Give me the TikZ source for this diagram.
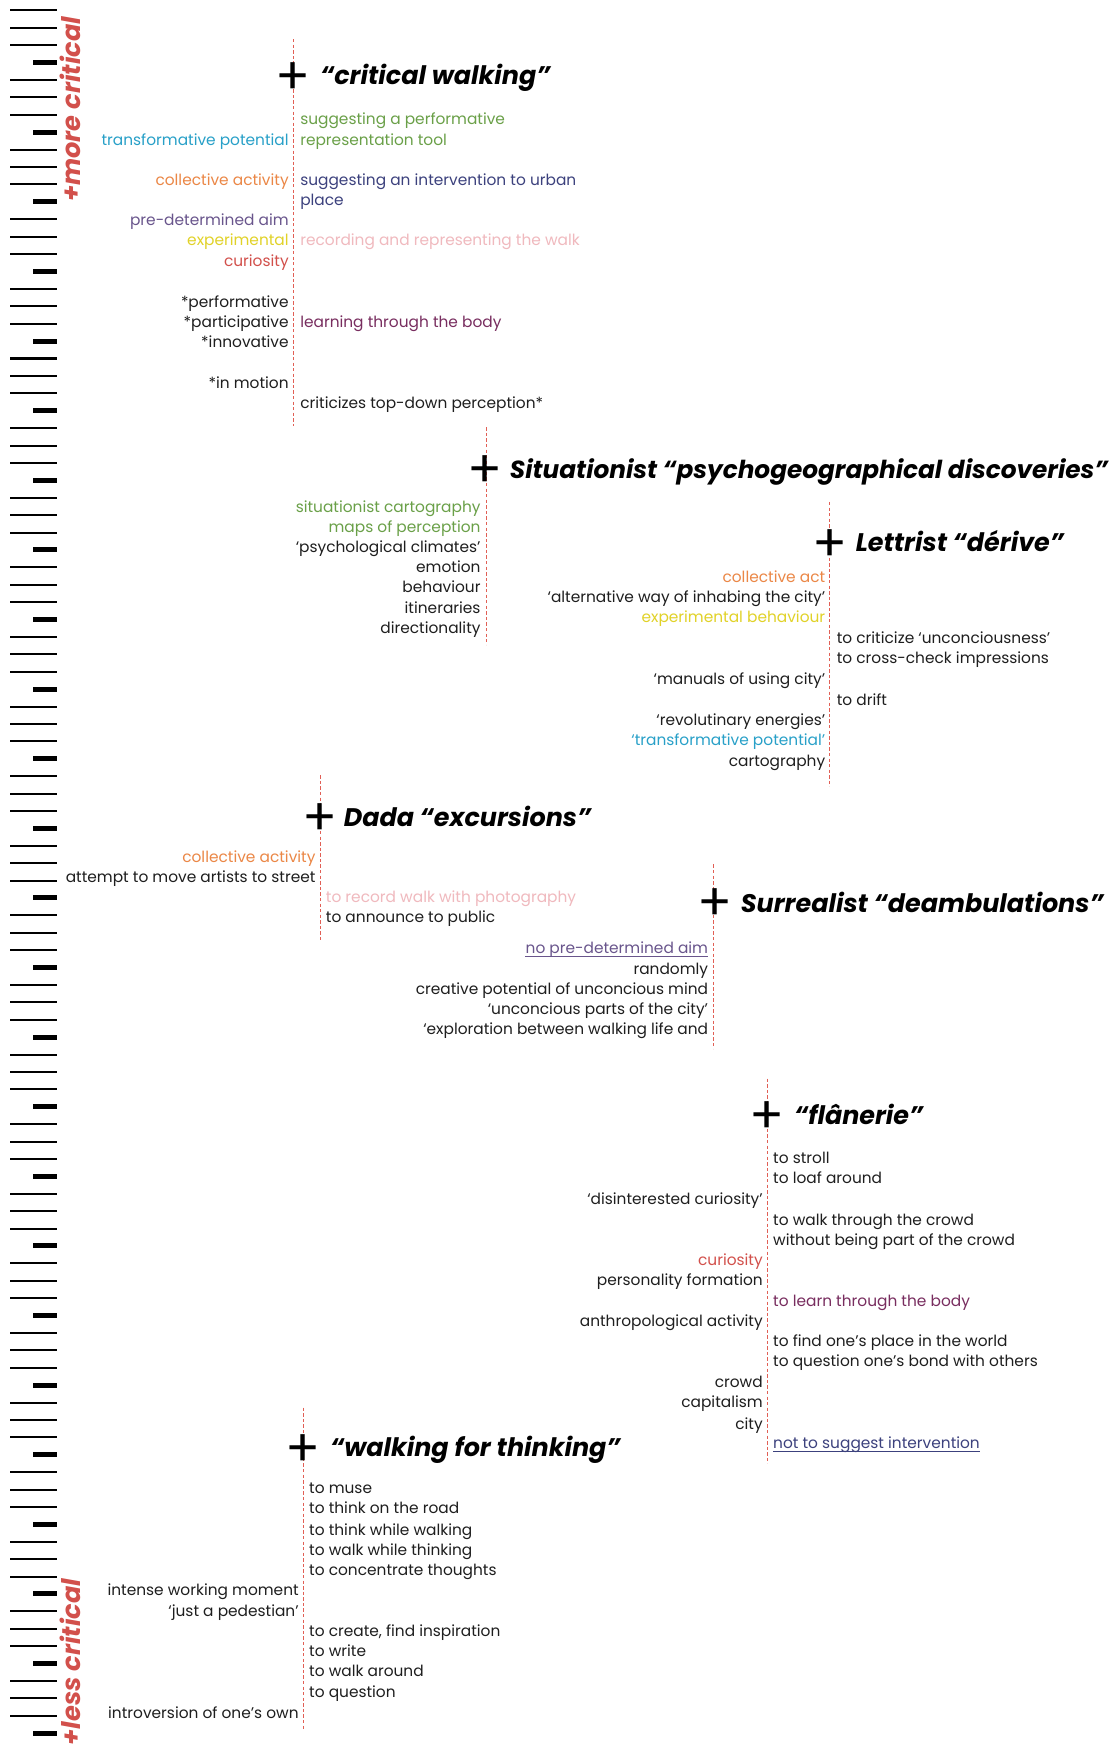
\documentclass[tikz,border=0pt]{standalone}
\usepackage{fontspec}
\setmainfont{Poppins}
\definecolor{cgreen}{RGB}{106,160,72}
\definecolor{ccyan}{RGB}{40,160,200}
\definecolor{corange}{RGB}{235,135,70}
\definecolor{cindigo}{RGB}{60,65,125}
\definecolor{cviolet}{RGB}{105,85,140}
\definecolor{cyellow}{RGB}{225,210,40}
\definecolor{cred}{RGB}{210,80,75}
\definecolor{cpink}{RGB}{240,185,190}
\definecolor{cplum}{RGB}{120,45,95}
\definecolor{dashred}{RGB}{225,95,85}
\definecolor{txt}{RGB}{30,30,30}
\newcounter{itm}
\newcommand\itL[4]{\stepcounter{itm}\node[lbl,text=#3,anchor=mid east] (i\arabic{itm}) at (#1,#2) {#4};}
\newcommand\itR[4]{\stepcounter{itm}\node[lbl,text=#3,anchor=mid west] (i\arabic{itm}) at (#1,#2) {#4};}
\begin{document}
\begin{tikzpicture}[x=1pt,y=-1pt,
  lbl/.style={inner sep=0pt,yshift=-2.5pt,font=\fontsize{13.8}{15}\selectfont},
  ttl/.style={inner sep=0pt,anchor=mid west,yshift=-4pt,font=\bfseries\itshape\fontsize{22.8}{24}\selectfont,text=black},
  plus/.style={inner sep=0pt,yshift=-3pt,font=\fontsize{46}{46}\selectfont,text=black},
  dashline/.style={draw=dashred,line width=0.8pt,dash pattern=on 3pt off 2pt},
  thinbar/.style={draw=black,line width=1.8pt},
  thickbar/.style={draw=black,line width=4.5pt},
  side/.style={inner sep=0pt,rotate=90,text=cred,font=\bfseries\itshape\fontsize{23}{23}\selectfont}]
\useasboundingbox (0,0) rectangle (1000,1568);
\fill[white] (0,0) rectangle (1000,1568);
% ruler
\foreach \i in {0,...,99}{
  \pgfmathsetmacro\yy{9.4+15.6*\i}
  \pgfmathtruncatemacro\m{mod(\i,4)}
  \ifnum\m=3 \draw[thickbar] (30,\yy) -- (51,\yy); \else \draw[thinbar] (9,\yy) -- (51,\yy); \fi
}
\node[side] (more) at (63,98) {+more critical};
\node[side] (less) at (63,1490) {+less critical};

% ---------- critical walking
\coordinate (cwt) at (263,35); \coordinate (cwb) at (263,382);
\draw[dashline] (cwt) -- (cwb);
\node[plus] (cwp) at (263,67) {+};
\node[ttl] (cwtitle) at (287,69) {“critical walking”};
\itR{269}{106}{cgreen}{suggesting a performative}
\itR{269}{125}{cgreen}{representation tool}
\itR{269}{161}{cindigo}{suggesting an intervention to urban}
\itR{269}{179}{cindigo}{place}
\itR{269}{215}{cpink}{recording and representing the walk}
\itR{269}{288}{cplum}{learning through the body}
\itR{269}{361}{txt}{criticizes top-down perception*}
\itL{259}{125}{ccyan}{transformative potential}
\itL{259}{161}{corange}{collective activity}
\itL{259}{197}{cviolet}{pre-determined aim}
\itL{259}{215}{cyellow}{experimental}
\itL{259}{234}{cred}{curiosity}
\itL{259}{270}{txt}{*performative}
\itL{259}{288}{txt}{*participative}
\itL{259}{306}{txt}{*innovative}
\itL{259}{343}{txt}{*in motion}

% ---------- Situationist
\coordinate (sit) at (436,383); \coordinate (sib) at (436,578);
\draw[dashline] (sit) -- (sib);
\node[plus] (sip) at (435,420) {+};
\node[ttl,font=\bfseries\itshape\fontsize{22.2}{24}\selectfont] (sititle) at (457,422) {Situationist “psychogeographical discoveries”};
\itL{431}{454}{cgreen}{situationist cartography}
\itL{431}{472}{cgreen}{maps of perception}
\itL{431}{490}{txt}{‘psychological climates’}
\itL{431}{508}{txt}{emotion}
\itL{431}{526}{txt}{behaviour}
\itL{431}{545}{txt}{itineraries}
\itL{431}{563}{txt}{directionality}

% ---------- Lettrist
\coordinate (let) at (744,450); \coordinate (leb) at (744,705);
\draw[dashline] (let) -- (leb);
\node[plus] (lep) at (744,486) {+};
\node[ttl] (letitle) at (767,488) {Lettrist “dérive”};
\itL{740}{517}{corange}{collective act}
\itL{740}{535}{txt}{‘alternative way of inhabing the city’}
\itL{740}{553}{cyellow}{experimental behaviour}
\itL{740}{608}{txt}{‘manuals of using city’}
\itL{740}{645}{txt}{‘revolutinary energies’}
\itL{740}{663}{ccyan}{‘transformative potential’}
\itL{740}{682}{txt}{cartography}
\itR{750}{572}{txt}{to criticize ‘unconciousness’}
\itR{750}{590}{txt}{to cross-check impressions}
\itR{750}{627}{txt}{to drift}

% ---------- Dada
\coordinate (dat) at (287,695); \coordinate (dab) at (287,843);
\draw[dashline] (dat) -- (dab);
\node[plus] (dap) at (287,732) {+};
\node[ttl] (datitle) at (308,734) {Dada “excursions”};
\itL{283}{768}{corange}{collective activity}
\itL{283}{786}{txt}{attempt to move artists to street}
\itR{292}{804}{cpink}{to record walk with photography}
\itR{292}{822}{txt}{to announce to public}

% ---------- Surrealist
\coordinate (sut) at (640,775); \coordinate (sub) at (640,940);
\draw[dashline] (sut) -- (sub);
\node[plus] (sup) at (641,808) {+};
\node[ttl] (sutitle) at (664,811) {Surrealist “deambulations”};
\node[lbl,text=cviolet,anchor=mid east] (noaim) at (635,850) {no pre-determined aim};
\draw[cviolet,line width=0.6pt] ([yshift=-2.5pt]noaim.base west) -- ([yshift=-2.5pt]noaim.base east);
\itL{635}{868}{txt}{randomly}
\itL{635}{886}{txt}{creative potential of unconcious mind}
\itL{635}{904}{txt}{‘unconcious parts of the city’}
\itL{635}{922}{txt}{‘exploration between walking life and}

% ---------- flanerie
\coordinate (flt) at (688,967); \coordinate (flb) at (688,1312);
\draw[dashline] (flt) -- (flb);
\node[plus] (flp) at (688,999) {+};
\node[ttl] (fltitle) at (712,1001) {“flânerie”};
\itR{693}{1038}{txt}{to stroll}
\itR{693}{1056}{txt}{to loaf around}
\itR{693}{1093}{txt}{to walk through the crowd}
\itR{693}{1111}{txt}{without being part of the crowd}
\itR{693}{1166}{cplum}{to learn through the body}
\itR{693}{1202}{txt}{to find one’s place in the world}
\itR{693}{1220}{txt}{to question one’s bond with others}
\node[lbl,text=cindigo,anchor=mid west] (noint) at (693,1293) {not to suggest intervention};
\draw[cindigo,line width=0.6pt] ([yshift=-2.5pt]noint.base west) -- ([yshift=-2.5pt]noint.base east);
\itL{684}{1075}{txt}{‘disinterested curiosity’}
\itL{684}{1129}{cred}{curiosity}
\itL{684}{1147}{txt}{personality formation}
\itL{684}{1184}{txt}{anthropological activity}
\itL{684}{1239}{txt}{crowd}
\itL{684}{1257}{txt}{capitalism}
\itL{684}{1276}{txt}{city}

% ---------- walking for thinking
\coordinate (wtt) at (272,1262); \coordinate (wtb) at (272,1550);
\draw[dashline] (wtt) -- (wtb);
\node[plus] (wtp) at (272,1297) {+};
\node[ttl] (wttitle) at (296,1299) {“walking for thinking”};
\itR{277}{1334}{txt}{to muse}
\itR{277}{1352}{txt}{to think on the road}
\itR{277}{1371}{txt}{to think while walking}
\itR{277}{1389}{txt}{to walk while thinking}
\itR{277}{1407}{txt}{to concentrate thoughts}
\itR{277}{1462}{txt}{to create, find inspiration}
\itR{277}{1480}{txt}{to write}
\itR{277}{1498}{txt}{to walk around}
\itR{277}{1517}{txt}{to question}
\itL{268}{1425}{txt}{intense working moment}
\itL{268}{1444}{txt}{‘just a pedestian’}
\itL{268}{1535}{txt}{introversion of one’s own}
\end{tikzpicture}
\end{document}
